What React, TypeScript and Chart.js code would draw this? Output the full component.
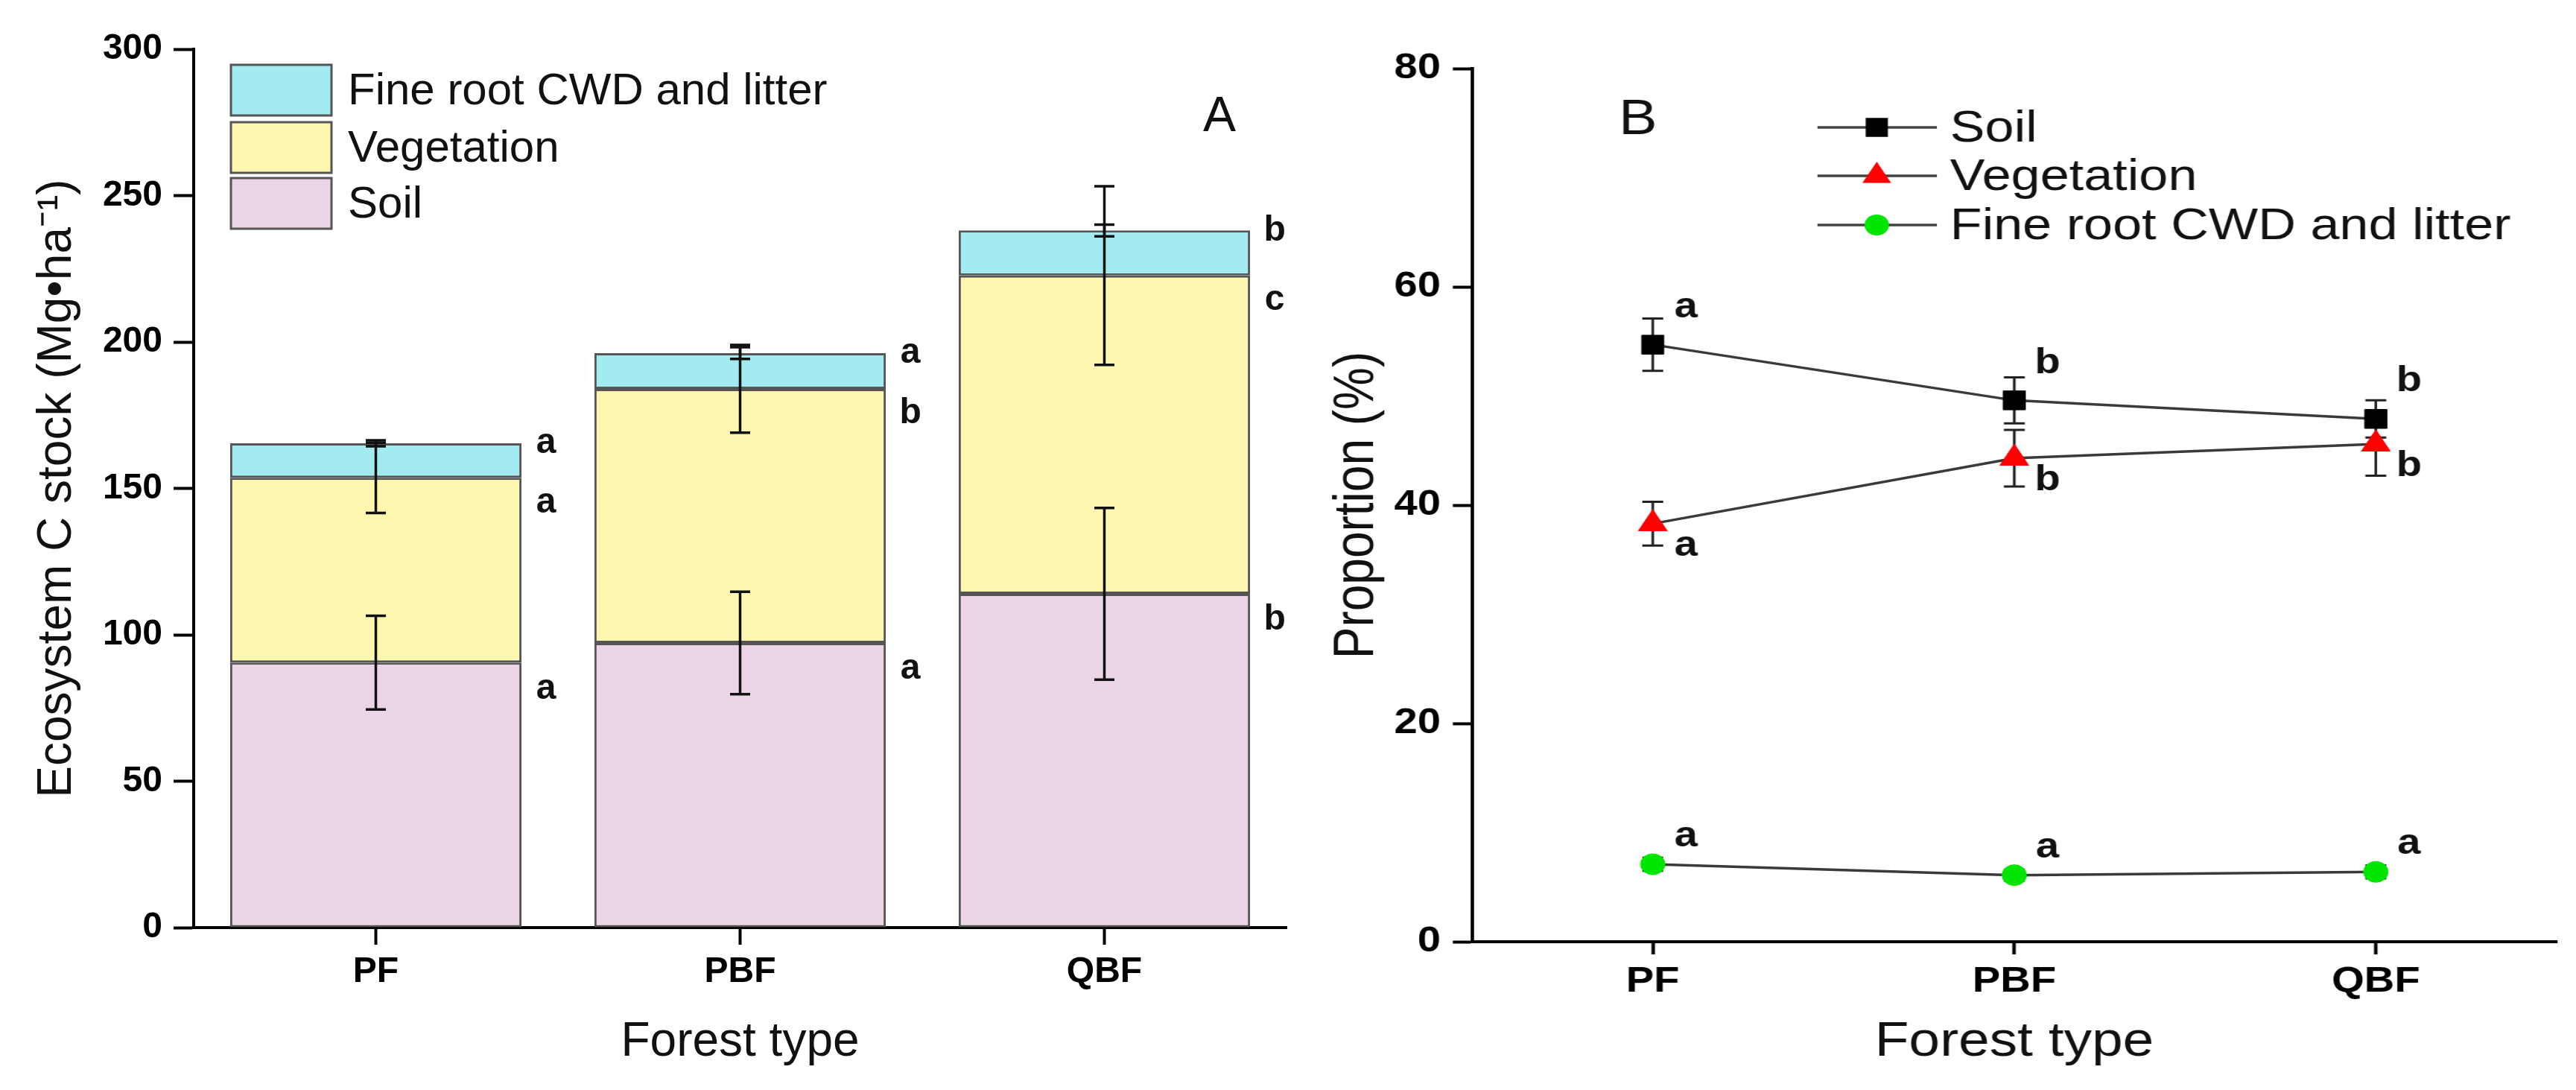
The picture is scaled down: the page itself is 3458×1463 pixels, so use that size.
import React, { useEffect, useRef } from 'react';
import { Chart, registerables } from 'chart.js';

Chart.register(...registerables);

// ---------- data ----------
const categories = ['PF', 'PBF', 'QBF'];

// Panel A: ecosystem C stock (Mg/ha), stacked
const stockSoil = [90.5, 97.2, 114.0];
const stockVegetation = [63.1, 86.8, 108.7];
const stockFine = [11.8, 12.2, 15.4];
const stockSoilErr = [16.0, 17.5, 29.3];
const stockVegetationErr = [12.0, 15.0, 30.5];
const stockFineErr = [1.0, 2.0, 2.0];
const stockSoilLetters = ['a', 'a', 'b'];
const stockVegetationLetters = ['a', 'b', 'c'];
const stockFineLetters = ['a', 'a', 'b'];
const stockTickStep = 50;
const stockMax = 300;

// Panel B: proportion (%)
const propSoil = [54.7, 49.6, 47.9];
const propVegetation = [38.3, 44.3, 45.6];
const propFine = [7.1, 6.1, 6.4];
const propSoilErr = [2.4, 2.1, 1.7];
const propVegetationErr = [2.0, 2.6, 2.9];
const propFineErr = [0.6, 0.5, 0.6];
const propSoilLetters = ['a', 'b', 'b'];
const propVegetationLetters = ['a', 'b', 'b'];
const propFineLetters = ['a', 'a', 'a'];
const propTickStep = 20;
const propMax = 80;

const seriesNames = ['Soil', 'Vegetation', 'Fine root CWD and litter'];

// ---------- styling ----------
const FONT = '"Liberation Sans", Arial, Helvetica, sans-serif';
const SOIL_FILL = '#EBD4E6';
const VEG_FILL = '#FDF7AF';
const FINE_FILL = '#A2ECF1';
const BAR_BORDER = '#555555';
const STRETCH_B = 1.17;

function axisCommon(tickLength: number, tickPad: number) {
  return {
    grid: {
      display: true,
      offset: false,
      drawOnChartArea: false,
      drawTicks: true,
      tickLength,
      tickWidth: 4,
      tickColor: '#000',
    },
    border: { display: true, color: '#000', width: 4 },
    ticks: {
      color: '#000',
      font: { family: FONT, size: 48, weight: 'bold' as const },
      padding: tickPad,
    },
  };
}

const leftPlugin = {
  id: 'leftDecor',
  afterDatasetsDraw(chart: any) {
    const ctx = chart.ctx as CanvasRenderingContext2D;
    const y = chart.scales.y;
    const errs = [stockSoilErr, stockVegetationErr, stockFineErr];
    const letters = [stockSoilLetters, stockVegetationLetters, stockFineLetters];
    const letterDy = [35, 33, 0];
    ctx.save();
    chart.data.datasets.forEach((ds: any, i: number) => {
      const meta = chart.getDatasetMeta(i);
      meta.data.forEach((bar: any, j: number) => {
        let top = 0;
        for (let k = 0; k <= i; k++) top += chart.data.datasets[k].data[j];
        const yc = y.getPixelForValue(top);
        const yh = y.getPixelForValue(top + errs[i][j]);
        const yl = y.getPixelForValue(top - errs[i][j]);
        ctx.strokeStyle = '#111';
        ctx.lineWidth = 3.5;
        ctx.beginPath();
        ctx.moveTo(bar.x, yh);
        ctx.lineTo(bar.x, yl);
        ctx.moveTo(bar.x - 13.5, yh);
        ctx.lineTo(bar.x + 13.5, yh);
        ctx.moveTo(bar.x - 13.5, yl);
        ctx.lineTo(bar.x + 13.5, yl);
        ctx.stroke();
        ctx.fillStyle = '#111';
        ctx.font = `bold 48px ${FONT}`;
        ctx.textAlign = 'center';
        ctx.textBaseline = 'middle';
        ctx.fillText(letters[i][j], bar.x + bar.width / 2 + 33, yc + letterDy[i]);
      });
    });
    // legend
    const rows = [
      { name: seriesNames[2], fill: FINE_FILL, top: 87 },
      { name: seriesNames[1], fill: VEG_FILL, top: 164 },
      { name: seriesNames[0], fill: SOIL_FILL, top: 239 },
    ];
    rows.forEach((r) => {
      ctx.fillStyle = r.fill;
      ctx.fillRect(310, r.top, 135, 68);
      ctx.strokeStyle = BAR_BORDER;
      ctx.lineWidth = 3;
      ctx.strokeRect(310, r.top, 135, 68);
      ctx.fillStyle = '#111';
      ctx.font = `60px ${FONT}`;
      ctx.textAlign = 'left';
      ctx.textBaseline = 'middle';
      ctx.fillText(r.name, 467, r.top + 36);
    });
    ctx.font = `66px ${FONT}`;
    ctx.textAlign = 'center';
    ctx.textBaseline = 'middle';
    ctx.fillText('A', 1637, 158);
    ctx.restore();
  },
};

function drawMarker(ctx: CanvasRenderingContext2D, style: string, x: number, y: number, r: number, fill: string) {
  ctx.fillStyle = fill;
  ctx.beginPath();
  if (style === 'rect') {
    const s = r * Math.SQRT1_2;
    ctx.rect(x - s, y - s, 2 * s, 2 * s);
  } else if (style === 'triangle') {
    ctx.moveTo(x, y - r);
    ctx.lineTo(x + r * Math.sin(Math.PI / 3), y + r / 2);
    ctx.lineTo(x - r * Math.sin(Math.PI / 3), y + r / 2);
    ctx.closePath();
  } else {
    ctx.arc(x, y, r, 0, Math.PI * 2);
  }
  ctx.fill();
}

const rightPlugin = {
  id: 'rightDecor',
  beforeDatasetsDraw(chart: any) {
    const ctx = chart.ctx as CanvasRenderingContext2D;
    const y = chart.scales.y;
    const errs = [propSoilErr, propVegetationErr, propFineErr];
    ctx.save();
    chart.data.datasets.forEach((ds: any, i: number) => {
      const meta = chart.getDatasetMeta(i);
      meta.data.forEach((pt: any, j: number) => {
        const v = ds.data[j];
        const yh = y.getPixelForValue(v + errs[i][j]);
        const yl = y.getPixelForValue(v - errs[i][j]);
        ctx.strokeStyle = '#222';
        ctx.lineWidth = 3;
        ctx.beginPath();
        ctx.moveTo(pt.x, yh);
        ctx.lineTo(pt.x, yl);
        ctx.moveTo(pt.x - 12, yh);
        ctx.lineTo(pt.x + 12, yh);
        ctx.moveTo(pt.x - 12, yl);
        ctx.lineTo(pt.x + 12, yl);
        ctx.stroke();
      });
    });
    ctx.restore();
  },
  afterDatasetsDraw(chart: any) {
    const ctx = chart.ctx as CanvasRenderingContext2D;
    const letters = [propSoilLetters, propVegetationLetters, propFineLetters];
    const dy = [-50, 30, -37];
    ctx.save();
    ctx.fillStyle = '#111';
    ctx.font = `bold 48px ${FONT}`;
    ctx.textAlign = 'center';
    ctx.textBaseline = 'middle';
    chart.data.datasets.forEach((ds: any, i: number) => {
      const meta = chart.getDatasetMeta(i);
      meta.data.forEach((pt: any, j: number) => {
        ctx.fillText(letters[i][j], pt.x + 38, pt.y + dy[i]);
      });
    });
    // legend
    const rowY = [171, 236, 302];
    chart.data.datasets.forEach((ds: any, i: number) => {
      ctx.strokeStyle = '#444';
      ctx.lineWidth = 3.5;
      ctx.beginPath();
      ctx.moveTo(581, rowY[i]);
      ctx.lineTo(718, rowY[i]);
      ctx.stroke();
      drawMarker(ctx, ds.pointStyle, 649, rowY[i], ds.pointRadius, ds.pointBackgroundColor);
      ctx.fillStyle = '#111';
      ctx.font = `60px ${FONT}`;
      ctx.textAlign = 'left';
      ctx.textBaseline = 'middle';
      ctx.fillText(ds.label, 733, rowY[i] + 2);
    });
    ctx.font = `66px ${FONT}`;
    ctx.textAlign = 'center';
    ctx.fillText('B', 375, 162);
    ctx.restore();
  },
};

function makeLeft(canvas: HTMLCanvasElement) {
  const bx = axisCommon(23, 8);
  const by = axisCommon(27, 15);
  const barDs = (label: string, data: number[], fill: string) => ({
    label,
    data,
    backgroundColor: fill,
    borderColor: BAR_BORDER,
    borderWidth: 3,
    borderSkipped: false,
    barPercentage: 0.8,
    categoryPercentage: 1,
  });
  return new Chart(canvas, {
    type: 'bar',
    data: {
      labels: categories,
      datasets: [
        barDs(seriesNames[0], stockSoil, SOIL_FILL),
        barDs(seriesNames[1], stockVegetation, VEG_FILL),
        barDs(seriesNames[2], stockFine, FINE_FILL),
      ] as any,
    },
    options: {
      responsive: false,
      animation: false,
      devicePixelRatio: 1,
      layout: { padding: { top: 66, right: 33, bottom: 0, left: 0 } },
      plugins: { legend: { display: false }, tooltip: { enabled: false } },
      scales: {
        x: {
          stacked: true,
          offset: true,
          ...bx,
          title: {
            display: true,
            text: 'Forest type',
            color: '#111',
            font: { family: FONT, size: 64, lineHeight: 1.2 },
            padding: { top: 0, bottom: 25 },
          },
          afterFit: (s: any) => { s.height = 218; },
        },
        y: {
          stacked: true,
          min: 0,
          max: stockMax,
          ...by,
          ticks: { ...by.ticks, stepSize: stockTickStep },
          title: {
            display: true,
            text: 'Ecosystem C stock (Mg\u2022ha\u207B\u00B9)',
            color: '#111',
            font: { family: FONT, size: 64, lineHeight: 1.2 },
            padding: { top: 39, bottom: 0 },
          },
          afterFit: (s: any) => { s.width = 260; },
        },
      },
    } as any,
    plugins: [leftPlugin],
  });
}

function makeRight(canvas: HTMLCanvasElement) {
  const bx = axisCommon(17, 8);
  const by = axisCommon(22, 14);
  const lineDs = (label: string, data: number[], style: string, r: number, fill: string) => ({
    label,
    data,
    borderColor: '#3a3a3a',
    borderWidth: 3.5,
    pointStyle: style,
    pointRadius: r,
    pointBackgroundColor: fill,
    pointBorderColor: fill,
    pointBorderWidth: 1,
    tension: 0,
  });
  return new Chart(canvas, {
    type: 'line',
    data: {
      labels: categories,
      datasets: [
        lineDs(seriesNames[0], propSoil, 'rect', 18, '#000000'),
        lineDs(seriesNames[1], propVegetation, 'triangle', 19, '#FF0000'),
        lineDs(seriesNames[2], propFine, 'circle', 14, '#00E600'),
      ] as any,
    },
    options: {
      responsive: false,
      animation: false,
      devicePixelRatio: 1,
      layout: { padding: { top: 92, right: 22, bottom: 0, left: 0 } },
      plugins: { legend: { display: false }, tooltip: { enabled: false } },
      scales: {
        x: {
          offset: true,
          ...bx,
          title: {
            display: true,
            text: 'Forest type',
            color: '#111',
            font: { family: FONT, size: 64, lineHeight: 1.2 },
            padding: { top: 0, bottom: 25 },
          },
          afterFit: (s: any) => { s.height = 199; },
        },
        y: {
          min: 0,
          max: propMax,
          ...by,
          ticks: { ...by.ticks, stepSize: propTickStep },
          title: {
            display: true,
            text: 'Proportion (%)',
            color: '#111',
            font: { family: FONT, size: 64, lineHeight: 1.2 },
            padding: { top: 15, bottom: 0 },
          },
          afterFit: (s: any) => { s.width = 184.6; },
        },
      },
    } as any,
    plugins: [rightPlugin],
  });
}

export default function App() {
  const leftRef = useRef<HTMLCanvasElement>(null);
  const rightRef = useRef<HTMLCanvasElement>(null);
  useEffect(() => {
    const a = makeLeft(leftRef.current as HTMLCanvasElement);
    const b = makeRight(rightRef.current as HTMLCanvasElement);
    return () => {
      a.destroy();
      b.destroy();
    };
  }, []);
  return (
    <div
      style={{
        position: 'absolute',
        left: 0,
        top: 0,
        width: 3458,
        height: 1463,
        background: '#fff',
        overflow: 'hidden',
      }}
    >
      <canvas
        ref={leftRef}
        width={1760}
        height={1463}
        style={{ position: 'absolute', left: 0, top: 0, width: 1760, height: 1463 }}
      />
      <canvas
        ref={rightRef}
        width={1451}
        height={1463}
        style={{
          position: 'absolute',
          left: 1760,
          top: 0,
          width: 1451,
          height: 1463,
          transform: `scaleX(${STRETCH_B})`,
          transformOrigin: '0 0',
        }}
      />
    </div>
  );
}
